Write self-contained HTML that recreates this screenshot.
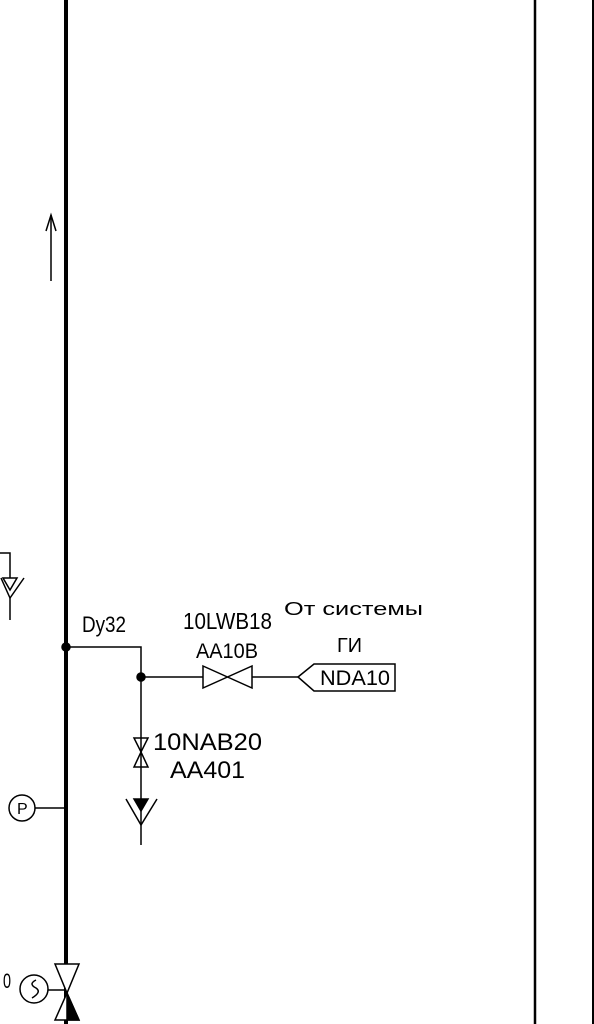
<!DOCTYPE html>
<html><head><meta charset="utf-8"><style>
html,body{margin:0;padding:0;background:#fff;width:594px;height:1024px;overflow:hidden}
svg{display:block}
text{font-family:"Liberation Sans Narrow","Liberation Sans","DejaVu Sans",sans-serif;fill:#000}
</style></head><body>
<svg width="594" height="1024" viewBox="0 0 594 1024">
<g stroke="#000" fill="none" stroke-width="1.5">
<line x1="66" y1="0" x2="66" y2="1024" stroke-width="4"/>
<line x1="535" y1="0" x2="535" y2="1024" stroke-width="2.5"/>
<line x1="593" y1="0" x2="593" y2="1024" stroke-width="2"/>
<g>
<line x1="51" y1="215" x2="51" y2="281"/>
<polyline points="46,231 51,215 56,231"/>
</g>
<g>
<polyline points="0,553 10,553 10,578"/>
<polygon points="3,578 17,578 10,590"/>
<polyline points="1,578 10,598 24,578"/>
<line x1="10" y1="598" x2="10" y2="620"/>
</g>
<circle cx="66" cy="647" r="4" fill="#000"/>
<polyline points="66,647 141,647 141,845"/>
<circle cx="141" cy="677" r="4" fill="#000"/>
<line x1="141" y1="677" x2="203" y2="677"/>
<polygon points="203,666 252,688 252,666 203,688"/>
<line x1="252" y1="677" x2="298" y2="677"/>
<polygon points="298,677 314,664 395,664 395,691 314,691"/>
<g>
<polygon points="134,738 148,738 141,752"/>
<polygon points="134,767 148,767 141,752"/>
</g>
<g>
<polygon points="134,799 148,799 141,811" fill="#000"/>
<polyline points="126,799 141,825 157,799"/>
</g>
<circle cx="22" cy="808" r="13"/>
<line x1="35" y1="808" x2="66" y2="808"/>
<g>
<polygon points="55,964 79,964 67,993" fill="#fff"/>
<polygon points="55,1020 79,1020 67,993" fill="#fff"/>
<polygon points="67,993 79,1020 67,1020" fill="#000"/>
<circle cx="34" cy="989" r="14"/>
<path d="M36,980 q-8,4 0,8 q6,4 -4,10"/>
<line x1="48" y1="990" x2="66" y2="990"/>
</g>
</g>
<text x="82" y="632" font-size="22" textLength="44" lengthAdjust="spacingAndGlyphs">Dy32</text>
<text x="183" y="629" font-size="23" textLength="89" lengthAdjust="spacingAndGlyphs">10LWB18</text>
<text x="196" y="658" font-size="21" textLength="62" lengthAdjust="spacingAndGlyphs">AA10B</text>
<text x="284" y="615" font-size="18" textLength="139" lengthAdjust="spacingAndGlyphs">От системы</text>
<text x="337" y="652" font-size="20" textLength="25" lengthAdjust="spacingAndGlyphs">ГИ</text>
<text x="320" y="685" font-size="21" textLength="70" lengthAdjust="spacingAndGlyphs">NDA10</text>
<text x="153" y="750" font-size="24" textLength="109" lengthAdjust="spacingAndGlyphs">10NAB20</text>
<text x="170" y="778" font-size="24" textLength="75" lengthAdjust="spacingAndGlyphs">AA401</text>
<text x="17" y="814" font-size="16">P</text>
<text x="3" y="988" font-size="21" textLength="8" lengthAdjust="spacingAndGlyphs">0</text>
</svg>
</body></html>
